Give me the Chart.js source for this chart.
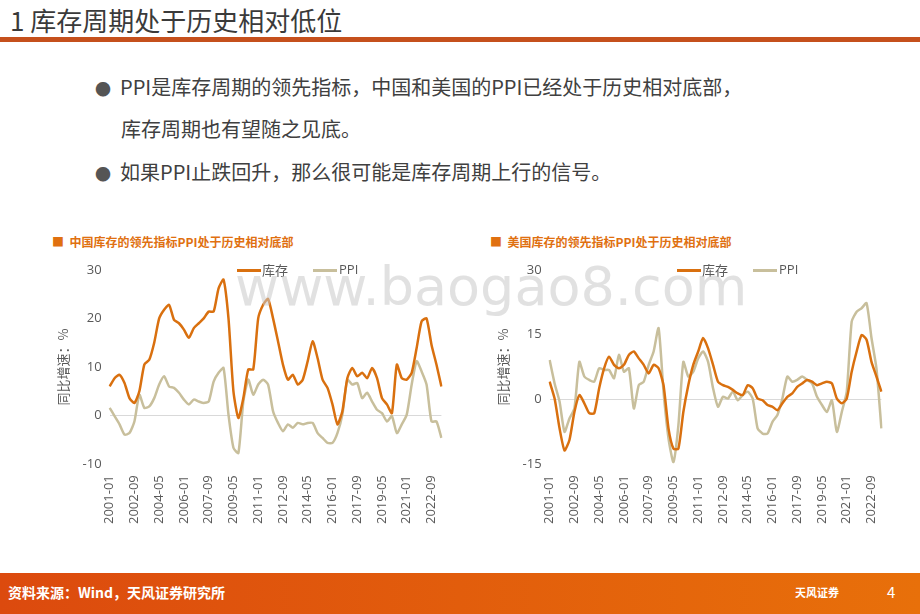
<!DOCTYPE html>
<html><head><meta charset="utf-8">
<script src="https://cdn.jsdelivr.net/npm/chart.js@4"></script>
<style>
body{margin:0;width:920px;height:614px;position:relative;background:#fff;font-family:"Noto Sans CJK SC",sans-serif;overflow:hidden}
.t{position:absolute;white-space:nowrap}
.lg{position:absolute;height:3px}
</style></head><body>
<div class="t" style="left:10px;top:1px;font-size:26px;color:#3a3a3a">1 库存周期处于历史相对低位</div>
<div style="position:absolute;left:0;top:37px;width:920px;height:5px;background:#c5501c"></div>
<div class="t" style="left:95px;top:72px;font-size:20px;color:#404040"><span style="color:#555;font-size:16px">●</span>&nbsp; PPI是库存周期的领先指标，中国和美国的PPI已经处于历史相对底部，</div>
<div class="t" style="left:121px;top:114px;font-size:20px;color:#404040">库存周期也有望随之见底。</div>
<div class="t" style="left:95px;top:157px;font-size:20px;color:#404040"><span style="color:#555;font-size:16px">●</span>&nbsp; 如果PPI止跌回升，那么很可能是库存周期上行的信号。</div>
<div class="t" style="left:52px;top:233px;font-size:12px;font-weight:bold;color:#e07010">■&nbsp; 中国库存的领先指标PPI处于历史相对底部</div>
<div class="t" style="left:490px;top:233px;font-size:12px;font-weight:bold;color:#e07010">■&nbsp; 美国库存的领先指标PPI处于历史相对底部</div>
<div style="position:absolute;left:50px;top:254px;width:410px;height:273px"><canvas id="c1"></canvas></div>
<div style="position:absolute;left:490px;top:254px;width:410px;height:273px"><canvas id="c2"></canvas></div>
<div class="lg" style="left:237px;top:269px;width:24px;background:#d9700f"></div>
<div class="t" style="left:262px;top:260px;font-size:13px;color:#595959">库存</div>
<div class="lg" style="left:313px;top:269px;width:24px;background:#c8bf9c"></div>
<div class="t" style="left:339px;top:260px;font-size:13px;color:#595959;font-family:'Open Sans'">PPI</div>
<div class="lg" style="left:677px;top:269px;width:24px;background:#d9700f"></div>
<div class="t" style="left:702px;top:260px;font-size:13px;color:#595959">库存</div>
<div class="lg" style="left:753px;top:269px;width:24px;background:#c8bf9c"></div>
<div class="t" style="left:779px;top:260px;font-size:13px;color:#595959;font-family:'Open Sans'">PPI</div>
<div class="t" style="left:235px;top:255px;font-size:54px;color:rgba(200,200,200,0.55);font-family:'DejaVu Sans'">www.baogao8.com</div>
<div style="position:absolute;left:0;top:573px;width:920px;height:41px;background:linear-gradient(90deg,#dc4a0e,#e8700a)"></div>
<div class="t" style="left:8px;top:582px;font-size:14px;font-weight:bold;color:#fff">资料来源：Wind，天风证券研究所</div>
<div class="t" style="left:795px;top:584px;font-size:11px;font-weight:bold;color:#fff">天风证券</div>
<div class="t" style="left:887px;top:581px;font-size:15px;color:#fff">4</div>
<script>
const dates=[];for(let y=2001;y<=2023;y++)for(const m of ['01','05','09']){if(y===2023&&m==='09')continue;dates.push(y+'-'+m);}
const cnInv=[6,7.7,8.4,6.7,3.6,2.6,5,10.5,11.5,15,20,21.8,22.8,19.7,19,17.7,16,18,19,20,21.4,21.4,26.2,28,20,5,-0.5,3.6,9.5,9.5,20,22.8,24,20,15.3,10.5,7.4,8.4,6.4,7.4,11.2,15.3,11.8,7.4,5.7,2.3,-1.8,0.9,7.7,9.8,8.1,8.8,7.7,9.8,7.7,3.6,2.3,0.5,10.5,7.7,7.4,8.8,13.9,19.4,20,14.6,10.5,6];
const cnPpi=[1.6,-0.1,-1.8,-3.9,-3.6,-1.2,4.3,1.6,1.9,3.6,6.4,8.1,6,5.7,4.7,3.3,2.3,3.3,2.9,2.6,2.9,7,8.8,9.8,0.2,-6.6,-7.7,2.9,7.4,4.3,6.4,7.4,6.4,0.9,-1.5,-3.2,-1.8,-2.5,-1.5,-1.8,-1.5,-1.5,-3.6,-4.6,-5.6,-5.6,-3.6,0.2,7.4,6.4,6.7,3.6,4.7,2.9,1.2,0.5,-1.2,-0.1,-3.6,-1.8,0.2,6.4,11.2,9.1,6.4,-1.2,-1.2,-4.6];
const usInv=[4.1,0.2,-6.7,-11.8,-9.4,-2.9,1,-0.9,-3.2,-3.2,2.6,7.2,9.9,8,7.2,8,10.3,11.1,9.5,8,6,8,7.2,3.3,-6.7,-11.4,-11.4,-2.9,3.3,8,11.1,14.2,11.8,8,4.1,3.3,2.9,2.2,1.4,1,3.3,2.6,0.2,-0.2,-1.3,-1.7,-2.5,-0.9,0.6,1.4,2.9,3.7,4.5,4.1,3.3,3.7,4.1,3.7,0.2,-0.9,0.2,6.4,11.1,14.9,13.8,8.7,5.3,1.8];
const usPpi=[9.1,3.7,-0.5,-7.5,-4.4,-2.1,8.7,5.3,4.5,4.1,7.2,6.8,6.8,4.9,10.3,6.4,7.2,-2.1,3.3,4.1,8,11.1,16.5,1.8,-9,-14.5,-6,8.7,5.3,6.4,9.5,11.1,8.7,2.6,-1.7,0.6,0.2,1.8,-0.2,1,1.8,0.2,-6.7,-7.9,-7.9,-5.2,-3.6,0.2,5.3,4.1,4.5,5.3,4.5,3.7,0.6,-1.3,-2.9,-0.2,-7.5,-2.9,1.8,18,20.3,21.1,22.3,14.2,7.2,-6.7];
const tickFont={family:'"Open Sans","Noto Sans CJK SC"',size:13};
function mk(id,inv,ppi,min,max,step){
 new Chart(document.getElementById(id),{type:'line',
  data:{labels:dates,datasets:[
   {label:'库存',data:inv,borderColor:'#d9700f',borderWidth:2.5,pointRadius:0,tension:0.2},
   {label:'PPI',data:ppi,borderColor:'#c8bf9c',borderWidth:2.5,pointRadius:0,tension:0.2}]},
  options:{responsive:true,maintainAspectRatio:false,animation:false,
   layout:{padding:{left:1,right:10,top:0,bottom:0}},
   plugins:{legend:{display:false},tooltip:{enabled:false}},
   scales:{
    x:{grid:{display:false},border:{display:false},ticks:{autoSkip:false,maxRotation:90,minRotation:90,color:'#595959',font:tickFont,callback:(v,i)=>i%5===0?dates[i]:''}},
    y:{min:min,max:max,border:{display:false},ticks:{stepSize:step,color:'#595959',font:tickFont,padding:8},
      grid:{drawTicks:false,color:c=>c.tick.value===0?'#d9d9d9':'rgba(0,0,0,0)'},
      title:{display:true,text:'同比增速：%',color:'#595959',font:{family:'"Noto Sans CJK SC"',size:13}}}}}});
}
mk('c1',cnInv,cnPpi,-10,30,10);
mk('c2',usInv,usPpi,-15,30,15);
</script></body></html>
